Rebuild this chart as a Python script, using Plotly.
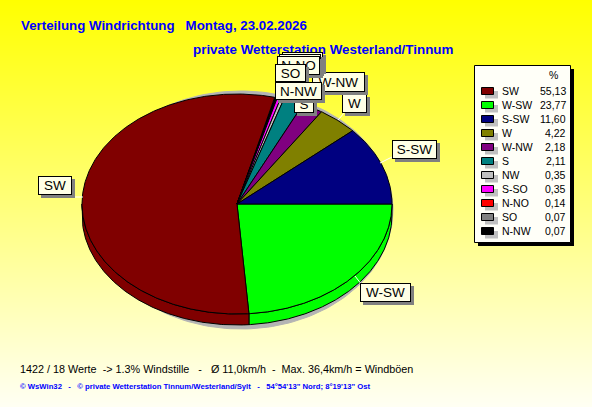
import math
import plotly.graph_objects as go

categories = ["SW", "W-SW", "S-SW", "W", "W-NW", "S", "NW", "S-SO", "N-NO", "SO", "N-NW"]
values = [55.13, 23.77, 11.60, 4.22, 2.18, 2.11, 0.35, 0.35, 0.14, 0.07, 0.07]
value_labels = ["55,13", "23,77", "11,60", "4,22", "2,18", "2,11", "0,35", "0,35", "0,14", "0,07", "0,07"]
colors = ["#800000", "#00FF00", "#000080", "#808000", "#800080", "#008080",
          "#C0C0C0", "#FF00FF", "#FF0000", "#808080", "#000000"]
# clockwise drawing order starting at 3 o'clock
pie_order = ["W-SW", "SW", "N-NW", "SO", "N-NO", "S-SO", "NW", "S", "W-NW", "W", "S-SW"]

title_1 = "Verteilung Windrichtung   Montag, 23.02.2026"
title_2 = "private Wetterstation Westerland/Tinnum"
footer_1 = "1422 / 18 Werte  -> 1.3% Windstille   -   Ø 11,0km/h  -  Max. 36,4km/h = Windböen"
footer_2 = "© WsWin32   -   © private Wetterstation Tinnum/Westerland/Sylt   -   54°54'13\" Nord; 8°19'13\" Ost"

W, H = 592, 407
CX, CY, RX, RY, DEPTH = 237, 204, 155, 110, 12
SANS = "Liberation Sans, Arial, sans-serif"

fig = go.Figure()
fig.add_trace(go.Heatmap(x=[0, W], y=[0, H], z=[[0, 0], [1, 1]], zsmooth="best", showscale=False,
                         colorscale=[[0, "#FFFF00"], [1, "#FFFFF4"]], hoverinfo="skip"))


def arc(a0, a1, dy=0):
    n = max(2, int(abs(a1 - a0) * 2))
    pts = [a0 + (a1 - a0) * i / n for i in range(n + 1)]
    return ([CX + RX * math.cos(math.radians(a)) for a in pts],
            [CY + dy + RY * math.sin(math.radians(a)) for a in pts])


def poly(x, y, fill, line=None):
    fig.add_trace(go.Scatter(x=x, y=y, mode="lines", fill="toself", fillcolor=fill,
                             line=dict(color=line or fill, width=1),
                             hoverinfo="skip", showlegend=False))


# drop shadow below the pie
ax, ay = [], []
for d in range(0, 360, 2):
    a = math.radians(d)
    ax.append(CX + 4 + (RX - 3) * math.cos(a))
    ay.append(CY + 6 + (RY + 9) * math.sin(a))
poly(ax + ax[:1], ay + ay[:1], "#B4B4B4")

total = sum(values)
spans = []
start = 0.0
for name in pie_order:
    i = categories.index(name)
    sweep = values[i] / total * 360
    spans.append((i, start, start + sweep))
    start += sweep

# rim
for i, a0, a1 in spans:
    b0, b1 = max(a0, 0), min(a1, 180)
    if b1 > b0:
        tx, ty = arc(b0, b1)
        bx, by = arc(b1, b0, DEPTH - 1)
        poly(tx + bx + tx[:1], ty + by + ty[:1], colors[i], "#000000")
# top surface
for i, a0, a1 in spans:
    x, y = arc(a0, a1)
    poly([CX] + x + [CX], [CY] + y + [CY], colors[i], "#000000")

# white leader lines
leaders = [((75, 197), (83, 197)), ((380, 163), (392, 157)), ((338, 120), (345, 112)),
           ((355, 276), (362, 285)), ((300, 108), (304, 104))]
for (x0, y0), (x1, y1) in leaders:
    fig.add_trace(go.Scatter(x=[x0, x1], y=[y0, y1], mode="lines", line=dict(color="#FFFFFF", width=1),
                             hoverinfo="skip", showlegend=False))

ann = []


def text(x, y, s, size, color="#000000", bold=False, anchor="left", family=SANS):
    ann.append(dict(x=x, y=y, text=f"<b>{s}</b>" if bold else s, showarrow=False, xanchor=anchor, yanchor="middle",
                    font=dict(family=family, size=size, color=color), xref="x", yref="y"))


text(19, 25, title_1, 13.3, "#0000FF", True)
text(191, 49, title_2, 13.4, "#0000FF", True)
text(18, 369, footer_1, 10.8)
text(18, 386, footer_2, 7.7, "#0000FF", True)

# data labels: name, x0, y0, x1, y1 in painting order
boxes = [("SW", 38, 176, 72, 195), ("W-SW", 360, 283, 411, 302), ("S-SW", 392, 140, 437, 159),
         ("W", 342, 94, 367, 113), ("W-NW", 312, 72, 365, 92), ("S", 294, 95, 314, 113),
         ("NW", 282, 52, 323, 71), ("S-SO", 279, 54, 321, 73), ("N-NO", 277, 56, 320, 75),
         ("SO", 275, 64, 306, 82), ("N-NW", 275, 82, 322, 100)]
for name, x0, y0, x1, y1 in boxes:
    w, h = x1 - x0, y1 - y0
    ann.append(dict(x=x0 + 3, y=y0 + 3, text=" ", showarrow=False, xanchor="left", yanchor="top", width=w, height=h,
                    bgcolor="#808080", borderwidth=0, borderpad=0, xref="x", yref="y"))
    ann.append(dict(x=x0, y=y0, text=name, showarrow=False, xanchor="left", yanchor="top", width=w - 2, height=h - 2,
                    bgcolor="#FFFFE6", bordercolor="#000000", borderwidth=1, borderpad=0, align="center", valign="middle",
                    font=dict(family=SANS, size=13.5, color="#000000"), xref="x", yref="y"))

# legend panel
shapes = [
    dict(type="rect", x0=478, y0=69, x1=574, y1=246, fillcolor="#000000", line_width=0, layer="above"),
    dict(type="rect", x0=474.5, y0=65.5, x1=570.5, y1=242.5, fillcolor="#FFFFF8", line=dict(color="#000000", width=1), layer="above"),
]
text(553, 75, "%", 10.5, anchor="center")
for k, name in enumerate(categories):
    y = 91 + k * 14
    shapes.append(dict(type="rect", x0=485, y0=y, x1=498, y1=y + 7.5, fillcolor="#C0C0C0", line_width=0, layer="above"))
    shapes.append(dict(type="rect", x0=481.5, y0=y - 3.5, x1=493.5, y1=y + 3.5, fillcolor=colors[k],
                       line=dict(color="#000000", width=1), layer="above"))
    text(500, y, name, 10.5)
    text(568, y, value_labels[k], 10.5, anchor="right")

fig.update_layout(width=W, height=H, margin=dict(l=0, r=0, t=0, b=0), autosize=False, showlegend=False,
                  paper_bgcolor="#FFFFFF", plot_bgcolor="#FFFFFF",
                  xaxis=dict(range=[0, W], visible=False, fixedrange=True),
                  yaxis=dict(range=[H, 0], visible=False, fixedrange=True),
                  annotations=ann, shapes=shapes)
fig.write_html("out.html", config=dict(displayModeBar=False),
               post_script="document.body.style.margin='0';")
